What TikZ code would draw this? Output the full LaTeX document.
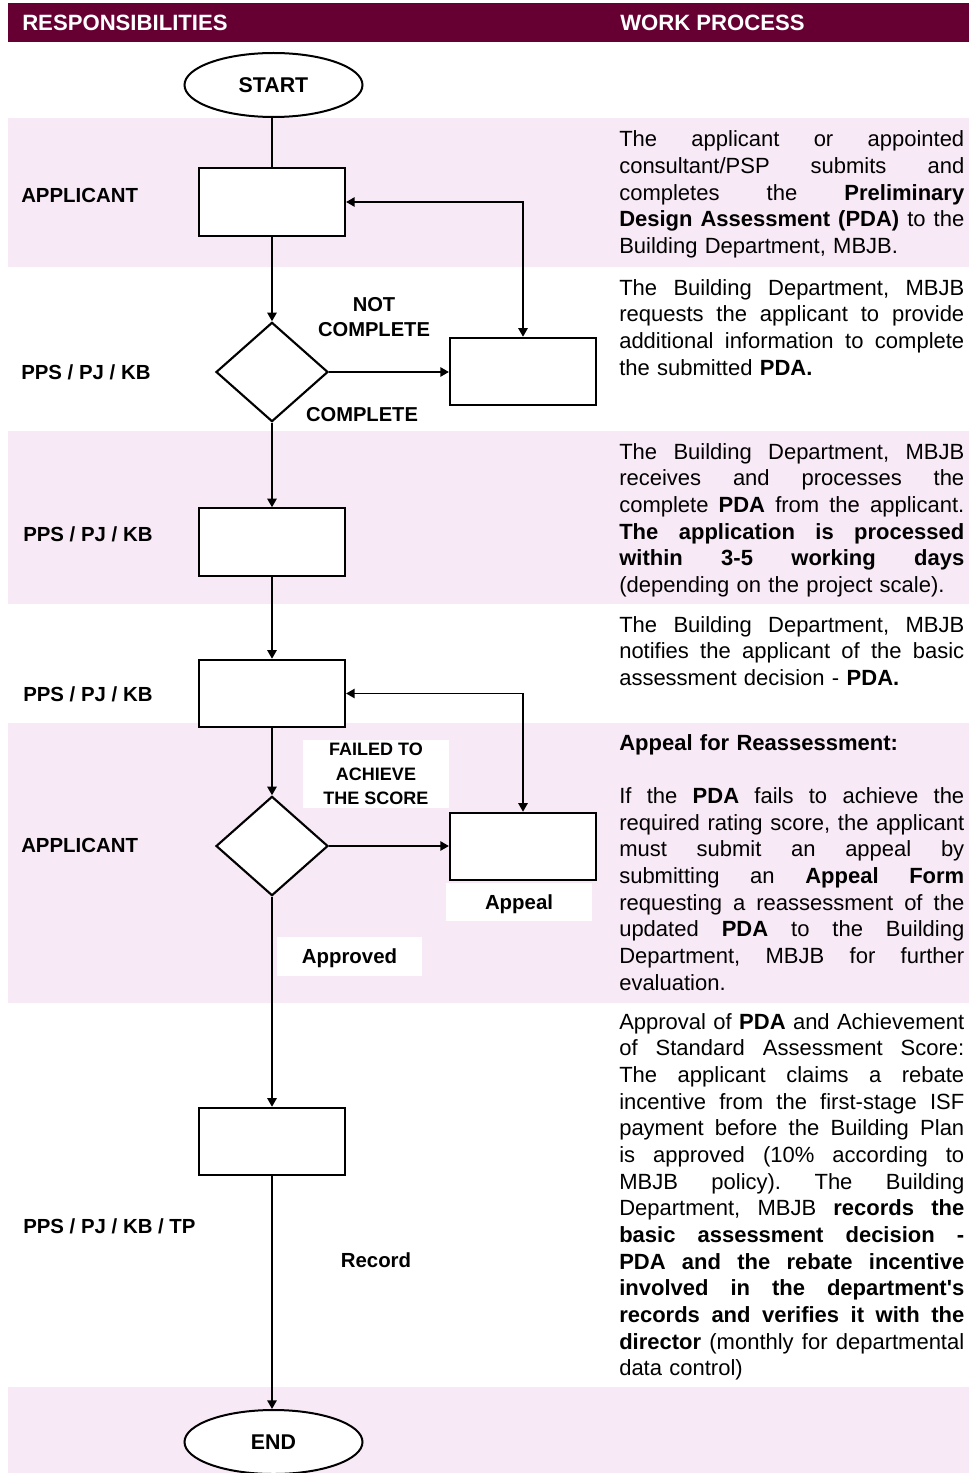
\documentclass[tikz,border=0pt]{standalone}
\usepackage{fontspec}
\setmainfont{Liberation Sans}
\usetikzlibrary{shapes.geometric,arrows.meta}
\definecolor{headmaroon}{HTML}{660033}
\definecolor{bandpink}{HTML}{F8E9F6}
% one fully justified line of the description column
\newcommand{\jl}[1]{\leavevmode\hbox to 258.75pt{\spaceskip=0.2778em plus 1fil\relax\xspaceskip=0.2778em plus 1fil\relax #1}}
\tikzset{
  stepbox/.style={draw, line width=1.6pt, fill=white, minimum width=109.5pt,
    minimum height=50.5pt, inner sep=0pt},
  decision/.style={diamond, draw, line width=1.6pt, fill=white, minimum width=84pt,
    minimum height=74.5pt, inner sep=0pt},
  terminal/.style={ellipse, draw, line width=1.5pt, fill=white, minimum width=133.5pt,
    minimum height=48pt, inner sep=0pt, font=\fontsize{16pt}{19pt}\selectfont\bfseries},
  flow/.style={line width=1.4pt, -{Triangle[length=6.5pt,width=7pt]}},
  twoway/.style={line width=1.4pt, {Triangle[length=6.5pt,width=7pt]}-{Triangle[length=6.5pt,width=7pt]}},
  link/.style={line width=1.4pt},
  role/.style={anchor=base west, inner sep=0pt, font=\fontsize{15.3pt}{18pt}\selectfont\bfseries},
  headtext/.style={anchor=base west, inner sep=0pt, text=white,
    font=\fontsize{16.6pt}{19pt}\selectfont\bfseries},
  branch/.style={align=center, inner sep=0pt, font=\fontsize{15.1pt}{18.75pt}\selectfont\bfseries},
  tag/.style={fill=white, align=center, inner sep=0pt, text height=11pt, text depth=0pt,
    font=\fontsize{15.3pt}{18pt}\selectfont\bfseries},
  desc/.style={anchor=base west, text width=258.75pt, inner sep=0pt,
    font=\fontsize{16.5pt}{20pt}\selectfont\frenchspacing},
}
\begin{document}
\begin{tikzpicture}[x=0.75pt, y=-0.75pt]
\useasboundingbox (0,0) rectangle (969,1473);
\fill[white] (0,0) rectangle (969,1473);

% title bar and shaded lanes
\fill[headmaroon] (8,3) rectangle (969,42);
\fill[bandpink] (8,118) rectangle (969,267);
\fill[bandpink] (8,431) rectangle (969,604);
\fill[bandpink] (8,723) rectangle (969,1003);
\fill[bandpink] (8,1387) rectangle (969,1473);

\node[headtext] (hresp) at (22,30.5) {RESPONSIBILITIES};
\node[headtext] (hwork) at (620,30.5) {WORK PROCESS};

% responsibilities
\node[role] (r1) at (21,202.5) {APPLICANT};
\node[role] (r2) at (21,379.5) {PPS / PJ / KB};
\node[role] (r3) at (23,541.5) {PPS / PJ / KB};
\node[role] (r4) at (23,701.5) {PPS / PJ / KB};
\node[role] (r5) at (21,852.5) {APPLICANT};
\node[role] (r6) at (23,1233.5) {PPS / PJ / KB / TP};

% flow chart
\node[terminal] (start) at (273.5,85) {START};
\node[stepbox] (b1) at (272,202) {};
\node[decision] (d1) at (272,372) {};
\node[stepbox] (b2) at (523,371.5) {};
\node[stepbox] (b3) at (272,542) {};
\node[stepbox] (b4) at (272,693.5) {};
\node[decision] (d2) at (272,846) {};
\node[stepbox] (b5) at (523,846.5) {};
\node[stepbox] (b6) at (272,1141.5) {};
\node[terminal] (end) at (273.5,1442) {END};

\draw[link] (b1.north |- start.south) -- (b1.north);
\draw[flow] (b1) -- (d1);
\draw[flow] (d1.east) -- (d1.east -| b2.west);
\draw[twoway] (b1.east) -- (b1.east -| b2.north) -- (b2.north);
\draw[flow] (d1) -- (b3);
\draw[flow] (b3) -- (b4);
\draw[flow] (b4) -- (d2);
\draw[flow] (d2.east) -- (d2.east -| b5.west);
\draw[twoway] (b4.east) -- (b4.east -| b5.north) -- (b5.north);
\draw[flow] (d2) -- (b6);
\draw[flow] (b6.south) -- (b6.south |- end.north);

% branch labels
\node[branch, anchor=base] (notc) at (374,336) {NOT\\COMPLETE};
\node[branch, anchor=base] (comp) at (362,421) {COMPLETE};
\node[fill=white, align=center, inner sep=0pt, minimum width=109.5pt, minimum height=51pt,
  font=\fontsize{13.5pt}{18.4pt}\selectfont\bfseries] (fail) at (376,774)
  {FAILED TO\\ACHIEVE\\THE SCORE};
\node[tag, minimum width=109.5pt, minimum height=28.5pt] (appeal) at (519,902) {Appeal};
\node[tag, minimum width=109pt, minimum height=29pt] (appr) at (349.5,956.5) {Approved};
\node[branch, anchor=base, font=\fontsize{15.3pt}{18pt}\selectfont\bfseries] (rec) at (376,1267) {Record};

% work process descriptions
\node[desc] (w1) at (619,147) {%
\jl{The applicant or appointed}\\
\jl{consultant/PSP submits and}\\
\jl{completes the \textbf{Preliminary}}\\
\jl{\textbf{Design Assessment (PDA)} to the}\\
Building Department, MBJB.};

\node[desc] (w2) at (619,295) {%
\jl{The Building Department, MBJB}\\
\jl{requests the applicant to provide}\\
\jl{additional information to complete}\\
the submitted \textbf{PDA.}};

\node[desc] (w3) at (619,459) {%
\jl{The Building Department, MBJB}\\
\jl{receives and processes the}\\
\jl{complete \textbf{PDA} from the applicant.}\\
\jl{\textbf{The application is processed}}\\
\jl{\textbf{within 3-5 working days}}\\
(depending on the project scale).};

\node[desc] (w4) at (619,632) {%
\jl{The Building Department, MBJB}\\
\jl{notifies the applicant of the basic}\\
assessment decision - \textbf{PDA.}};

\node[desc] (w5) at (619,750) {%
\textbf{Appeal for Reassessment:}\\[20pt]
\jl{If the \textbf{PDA} fails to achieve the}\\
\jl{required rating score, the applicant}\\
\jl{must submit an appeal by}\\
\jl{submitting an \textbf{Appeal Form}}\\
\jl{requesting a reassessment of the}\\
\jl{updated \textbf{PDA} to the Building}\\
\jl{Department, MBJB for further}\\
evaluation.};

\node[desc] (w6) at (619,1029) {%
\jl{Approval of \textbf{PDA} and Achievement}\\
\jl{of Standard Assessment Score:}\\
\jl{The applicant claims a rebate}\\
\jl{incentive from the first-stage ISF}\\
\jl{payment before the Building Plan}\\
\jl{is approved (10\% according to}\\
\jl{MBJB policy). The Building}\\
\jl{Department, MBJB \textbf{records the}}\\
\jl{\textbf{basic assessment decision -}}\\
\jl{\textbf{PDA and the rebate incentive}}\\
\jl{\textbf{involved in the department\textquotesingle s}}\\
\jl{\textbf{records and verifies it with the}}\\
\jl{\textbf{director} (monthly for departmental}\\
data control)};
\end{tikzpicture}
\end{document}
